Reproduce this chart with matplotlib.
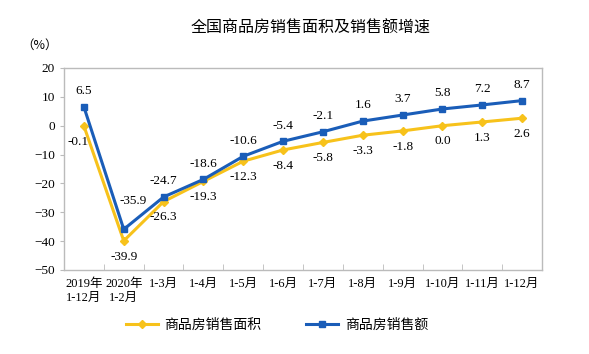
import matplotlib
matplotlib.use("Agg")
import matplotlib.pyplot as plt

months = ["2019年\n1-12月", "2020年\n1-2月", "1-3月", "1-4月", "1-5月", "1-6月",
          "1-7月", "1-8月", "1-9月", "1-10月", "1-11月", "1-12月"]
area = [-0.1, -39.9, -26.3, -19.3, -12.3, -8.4, -5.8, -3.3, -1.8, 0.0, 1.3, 2.6]
sales = [6.5, -35.9, -24.7, -18.6, -10.6, -5.4, -2.1, 1.6, 3.7, 5.8, 7.2, 8.7]

plt.rcParams['font.family'] = ['Liberation Serif', 'Noto Sans CJK SC']

yellow = '#F7C21B'
blue = '#1A5DB8'

fig = plt.figure(figsize=(5.89, 3.54), dpi=100)
ax = fig.add_axes([64/589, 1 - 270/354, 478/589, 202/354])

x = list(range(len(months)))
ax.plot(x, area, color=yellow, lw=2.2, marker='D', ms=4.5, label='商品房销售面积', zorder=3)
ax.plot(x, sales, color=blue, lw=2.2, marker='s', ms=4.5, label='商品房销售额', zorder=4)

# label offsets (points) where the reference nudges them
sales_off = {1: (7, 16)}
area_off = {0: (-4, -7)}
for i in x:
    ax.annotate(f"{sales[i]:.1f}", (i, sales[i]), xytext=sales_off.get(i, (0, 7)),
                textcoords='offset points', ha='center', va='bottom', fontsize=9.5)
    ax.annotate(f"{area[i]:.1f}", (i, area[i]), xytext=area_off.get(i, (0, -7)),
                textcoords='offset points', ha='center', va='top', fontsize=9.5)

ax.set_xlim(-0.5, 11.5)
ax.set_ylim(-50, 20)
ax.set_yticks(range(-50, 21, 10))
ax.set_xticks(x)
ax.set_xticklabels(months, fontsize=9)
ax.set_xticks([i + 0.5 for i in x[:-1]], minor=True)
ax.tick_params(axis='x', which='major', length=0, pad=6)
ax.tick_params(axis='x', which='minor', length=4, direction='in', color='#BBBBBB')
ax.tick_params(axis='y', length=3, color='#BBBBBB', labelsize=9.5)
for s in ax.spines.values():
    s.set_color('#BBBBBB')
    s.set_linewidth(1)

fig.text(311/589, 1 - 28/354, '全国商品房销售面积及销售额增速', ha='center', va='center',
         fontsize=11.5, family=['Noto Sans CJK SC'])
fig.text(40/589, 1 - 45/354, '（%）', ha='center', va='center', fontsize=9,
         family=['Noto Sans CJK SC'])

fig.legend(loc='center', bbox_to_anchor=(277/589, 1 - 325/354), ncol=2, frameon=False,
           prop={'family': ['Noto Sans CJK SC'], 'size': 10},
           handlelength=2.3, handletextpad=0.5, columnspacing=3.2)

fig.savefig('out.png', dpi=100, facecolor='white')
